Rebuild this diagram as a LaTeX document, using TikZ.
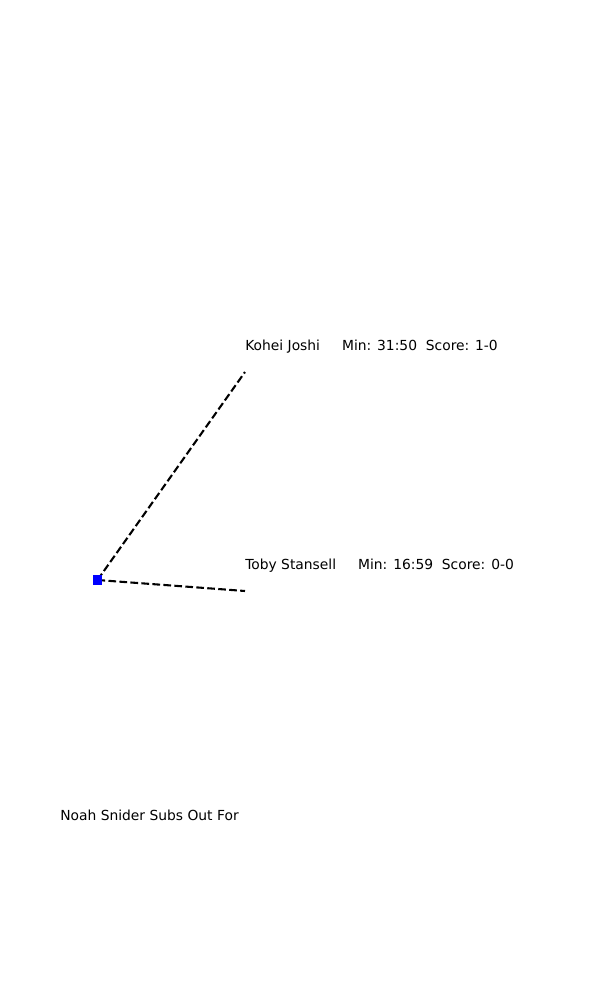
\documentclass[tikz,border=0pt]{standalone}
\usepackage{fontspec}
\setmainfont{DejaVu Sans}
\begin{document}
\begin{tikzpicture}[x=0.01in,y=-0.01in,
  lbl/.style={anchor=base west,inner sep=0pt,font=\fontsize{10pt}{12pt}\selectfont},
  conn/.style={draw=black,line width=1.5pt,dash pattern=on 5.55pt off 2.4pt},
  hub/.style={fill=blue,draw=blue,minimum size=0.085in,inner sep=0pt,rectangle}]
\useasboundingbox (0,0) rectangle (600,1000);
\coordinate (k) at (245,372);
\coordinate (t) at (245,591);
\draw[conn] (97.5,580) -- (k);
\draw[conn] (97.5,580) -- (t);
\node[hub] (h) at (97.5,580) {};
\node[lbl] (kl) at (245,350) {Kohei Joshi~~~~~Min: 31:50~~Score: 1-0};
\node[lbl] (tl) at (245,569) {Toby Stansell~~~~~Min: 16:59~~Score: 0-0};
\node[lbl] (nl) at (60,820) {Noah Snider Subs Out For};
\end{tikzpicture}
\end{document}
